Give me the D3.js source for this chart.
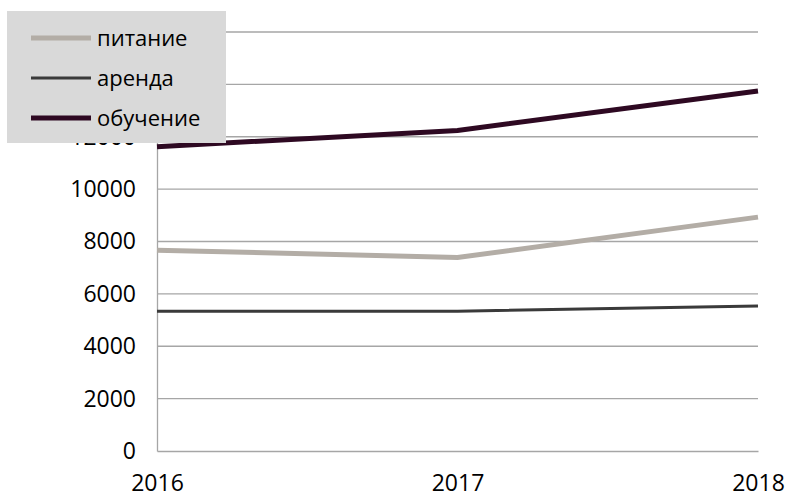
<!DOCTYPE html>
<html>
<head>
<meta charset="utf-8">
<script src="https://cdn.jsdelivr.net/npm/d3@7"></script>
<style>
  html, body { margin: 0; padding: 0; background: #fff; }
  svg { display: block; font-family: "Open Sans", sans-serif; }
</style>
</head>
<body>
<svg id="chart"></svg>
<script>
// years on the x axis
const years = [2016, 2017, 2018];
// series names (legend order)
const seriesNames = ["питание", "аренда", "обучение"];
// values per series
const pitanie = [7670, 7390, 8930];
const arenda = [5340, 5340, 5540];
const obuchenie = [11620, 12240, 13750];
const yTicks = [0, 2000, 4000, 6000, 8000, 10000, 12000, 14000, 16000];

const width = 786, height = 497;
const marginLeft = 157, marginRight = 28, marginTop = 32, marginBottom = 46;

const series = [
  {name: seriesNames[0], values: pitanie, color: "#b3ada6", width: 5},
  {name: seriesNames[1], values: arenda, color: "#3a3a3a", width: 3},
  {name: seriesNames[2], values: obuchenie, color: "#2e0922", width: 5}
];

const svg = d3.select("#chart")
  .attr("width", width)
  .attr("height", height)
  .attr("viewBox", [0, 0, width, height]);

const x = d3.scalePoint(years, [marginLeft, width - marginRight]);
const y = d3.scaleLinear([0, 16000], [height - marginBottom, marginTop]);

// gridlines
svg.append("g")
  .attr("stroke", "#a6a6a6")
  .attr("stroke-width", 1.3)
  .selectAll("line")
  .data(yTicks.slice(1))
  .join("line")
  .attr("x1", marginLeft)
  .attr("x2", width - marginRight)
  .attr("y1", d => y(d))
  .attr("y2", d => y(d));

// y axis
svg.append("g")
  .attr("transform", `translate(${marginLeft},0)`)
  .call(d3.axisLeft(y).tickValues(yTicks).tickSize(0).tickPadding(21).tickFormat(d3.format("d")))
  .call(g => g.select(".domain").attr("stroke", "#a6a6a6").attr("stroke-width", 1.3))
  .call(g => g.selectAll("text").attr("font-size", 23).attr("fill", "#000")
    .attr("font-family", "Open Sans, sans-serif"));

// x axis
svg.append("g")
  .attr("transform", `translate(0,${y(0)})`)
  .call(d3.axisBottom(x).tickSize(0).tickPadding(24).tickFormat(d3.format("d")))
  .call(g => g.select(".domain").attr("stroke", "#a6a6a6").attr("stroke-width", 1.3))
  .call(g => g.selectAll("text").attr("font-size", 23).attr("fill", "#000")
    .attr("font-family", "Open Sans, sans-serif"));

// lines
const line = d3.line()
  .x((d, i) => x(years[i]))
  .y(d => y(d));

svg.append("g")
  .attr("fill", "none")
  .selectAll("path")
  .data(series)
  .join("path")
  .attr("stroke", d => d.color)
  .attr("stroke-width", d => d.width)
  .attr("d", d => line(d.values));

// legend
const legend = svg.append("g");
legend.append("rect")
  .attr("x", 7).attr("y", 11)
  .attr("width", 219).attr("height", 132)
  .attr("fill", "#d9d9d9");

const rows = legend.selectAll("g")
  .data(series)
  .join("g")
  .attr("transform", (d, i) => `translate(0,${38 + i * 40})`);

rows.append("line")
  .attr("x1", 31).attr("x2", 91)
  .attr("stroke", d => d.color)
  .attr("stroke-width", d => d.width);

rows.append("text")
  .attr("x", 97)
  .attr("dy", "0.35em")
  .attr("font-size", 22)
  .attr("fill", "#000")
  .text(d => d.name);
</script>
</body>
</html>
